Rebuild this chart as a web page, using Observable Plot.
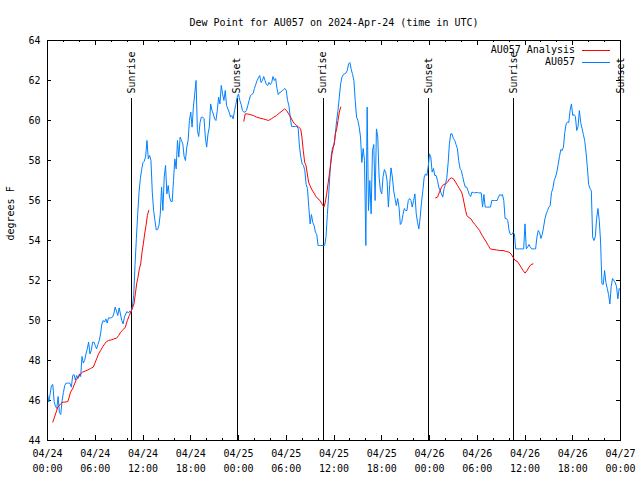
<!DOCTYPE html>
<html><head><meta charset="utf-8">
<script src="https://cdn.jsdelivr.net/npm/d3@7"></script>
<script src="https://cdn.jsdelivr.net/npm/@observablehq/plot@0.6"></script>
<style>
body{margin:0;background:#fff;}
#wrap{position:relative;width:640px;height:480px;font-family:"DejaVu Sans Mono",monospace;}
#legend{position:absolute;top:44px;right:30px;font-size:10px;line-height:12px;}
#legend .row{display:flex;justify-content:flex-end;align-items:center;height:12px;}
#legend .sw{display:inline-block;width:28px;height:1px;margin-left:7px;}
svg line, svg rect{shape-rendering:crispEdges;}
</style></head><body><div id="wrap"><div id="legend"></div></div>
<script>
const titleText = "Dew Point for AU057 on 2024-Apr-24 (time in UTC)";
const yLabel = "degrees F";
const seriesNames = ["AU057 Analysis", "AU057"];
const seriesColors = ["#ff0000", "#0080ff"];
const startUTC = "2024-04-24T00:00:00Z";
const spanHours = 72;
const obsStepMinutes = 10;
const obsValues = [
46.33,45.92,46.33,46.75,46.8,45.95,45.7,45.6,46.2,45.4,
45.3,46.0,46.4,46.75,46.87,46.87,46.87,46.85,46.67,47.25,
47.3,47.03,47.25,47.1,47.33,47.2,48.2,47.87,48.0,48.33,
48.58,48.92,48.33,48.5,48.92,48.92,48.75,48.58,48.8,49.0,
49.33,49.83,50.0,49.92,50.08,49.87,50.13,50.13,50.13,50.17,
50.33,50.67,50.47,50.25,50.63,50.33,50.0,49.83,50.17,50.33,
50.45,50.37,50.47,50.42,50.7,51.25,52.8,54.1,55.3,56.4,
57.1,57.55,57.9,57.97,58.2,59.0,58.08,58.25,58.0,56.42,
55.5,55.0,54.53,54.55,54.75,55.3,56.67,55.5,57.17,57.75,
56.33,56.75,56.17,55.95,55.95,57.0,58.08,57.58,59.0,58.17,
59.17,59.0,58.83,58.2,58.0,58.67,59.0,
60.0,60.42,59.67,60.67,61.33,62.0,59.5,59.2,59.9,60.17,
60.17,60.1,59.17,58.67,59.33,59.67,60.83,60.5,60.33,60.08,
60.0,60.5,61.17,60.83,61.75,61.33,61.0,61.5,60.75,60.58,
60.42,60.17,60.25,60.08,60.5,60.8,61.17,61.33,61.0,60.8,
60.5,60.42,60.42,60.5,60.75,61.0,61.25,61.3,61.35,61.6,
61.8,62.0,62.13,62.25,61.9,62.0,62.2,62.0,61.8,61.75,
61.9,61.8,61.9,62.2,62.0,62.1,61.6,61.3,61.4,61.42,
61.5,61.55,61.6,61.5,61.0,60.75,60.17,59.7,59.7,59.7,
59.7,59.7,59.6,58.67,58.17,57.83,57.75,57.5,56.8,56.6,
55.67,54.83,55.3,54.9,54.75,54.42,54.3,53.75,53.75,53.75,
53.75,53.75,53.75,54.2,55.3,56.3,57.4,58.3,58.67,
58.75,59.33,60.0,60.5,61.17,61.83,62.17,62.3,62.33,62.37,
62.5,62.83,62.9,62.55,62.3,62.0,61.0,60.17,60.0,59.67,
59.17,57.9,58.6,58.0,53.75,60.67,55.5,57.0,55.33,58.5,
58.8,56.0,59.58,59.17,57.17,56.5,56.33,57.2,57.55,57.4,
57.0,55.67,56.8,57.63,57.17,56.5,56.1,55.75,56.1,55.67,
54.8,54.9,55.3,55.6,55.5,55.5,56.0,56.1,56.0,55.67,
56.0,56.33,55.33,54.9,54.58,55.17,55.92,56.5,57.17,57.33,
57.25,57.67,58.33,58.17,57.42,57.6,57.25,57.25,57.0,56.67,
56.5,56.33,56.17,56.6,56.8,57.1,57.83,58.83,59.33,59.33,
59.1,59.0,58.8,58.6,58.0,57.6,57.5,57.2,56.9,56.67,
56.67,56.5,56.3,56.2,56.42,56.4,56.38,56.4,56.4,
56.38,56.38,56.38,55.67,56.3,55.67,55.67,55.67,55.67,55.67,
56.0,56.0,56.0,56.0,56.0,56.17,56.3,56.25,56.3,56.0,
55.1,55.1,55.0,54.5,54.3,54.3,54.4,54.33,53.58,53.58,
53.58,53.58,53.58,53.58,53.58,54.83,53.58,53.67,53.8,53.67,
53.58,53.58,53.58,53.58,54.17,54.5,54.4,54.1,54.3,54.67,
55.08,55.33,55.5,55.67,55.75,56.4,56.6,57.0,57.17,57.42,
57.8,58.2,58.55,58.5,58.67,59.4,59.83,59.92,59.9,60.5,
60.83,60.25,60.3,60.2,59.5,59.7,60.5,59.9,59.6,59.3,
59.0,58.42,57.67,56.8,56.6,56.5,54.17,54.0,54.2,55.1,
55.6,55.0,53.92,51.83,51.8,52.5,51.9,51.6,51.3,50.83,
51.7,52.1,52.0,51.9,51.7,51.08,51.6,51.5
];
const ana1Hours = [0.67,0.88,1.09,1.30,1.64,1.93,2.22,2.56,2.73,2.90,3.15,3.40,3.65,3.90,4.15,4.41,4.74,5.08,5.41,5.75,5.92,6.17,6.42,6.67,6.92,7.18,7.43,7.68,8.01,8.35,8.69,8.94,9.19,9.53,9.78,10.03,10.28,10.53,10.87,11.04,11.20,11.37,11.54,11.71,11.88,12.04,12.21,12.38,12.55,12.72];
const ana1Values = [44.92,45.17,45.42,45.67,45.83,45.92,45.92,45.95,46.17,46.42,46.58,46.83,47.08,47.17,47.33,47.42,47.47,47.53,47.6,47.67,47.83,48.08,48.33,48.5,48.67,48.83,48.95,49.0,49.03,49.08,49.12,49.25,49.42,49.55,49.67,50.0,50.25,50.47,50.83,51.33,51.83,52.17,52.58,52.83,53.42,53.83,54.33,54.75,55.25,55.5];
const ana2Hours = [24.67,24.84,25.09,25.43,25.85,26.27,26.69,27.11,27.53,27.78,28.11,28.45,28.79,29.12,29.46,29.79,30.04,30.30,30.55,30.80,31.05,31.30,31.55,31.81,31.97,32.14,32.31,32.48,32.65,32.81,32.98,33.23,33.49,33.74,33.99,34.24,34.49,34.74,34.91,35.08,35.25,35.42,35.58,35.75,35.92,36.09,36.17,36.34,36.50,36.67,36.84];
const ana2Values = [59.97,60.33,60.33,60.3,60.25,60.17,60.12,60.08,60.03,60.0,60.08,60.17,60.25,60.37,60.47,60.58,60.5,60.33,60.17,59.97,59.83,59.75,59.67,59.58,59.17,58.5,57.92,57.75,57.33,56.92,56.75,56.53,56.37,56.2,56.08,56.0,55.83,55.67,55.92,56.33,56.83,57.33,57.83,58.33,58.67,59.0,59.33,59.58,60.0,60.42,60.67];
const ana3Hours = [48.76,49.01,49.26,49.51,49.76,50.02,50.27,50.52,50.77,51.02,51.27,51.53,51.78,52.03,52.20,52.37,52.53,52.70,52.87,53.21,53.46,53.71,53.96,54.30,54.38,54.63,54.89,55.14,55.39,55.64,55.98,56.40,56.82,57.24,57.66,57.99,58.24,58.49,58.75,59.00,59.25,59.50,59.75,60.01,60.26,60.51,60.76,61.01];
const ana3Values = [56.13,56.17,56.42,56.67,56.8,56.83,56.92,57.08,57.13,57.08,56.92,56.75,56.58,56.42,56.17,55.83,55.5,55.25,55.17,55.08,54.92,54.8,54.67,54.5,54.42,54.25,54.08,53.92,53.75,53.58,53.55,53.53,53.5,53.5,53.45,53.42,53.33,53.17,53.0,52.97,52.83,52.67,52.5,52.37,52.5,52.67,52.8,52.83];
const sunHours = [10.57, 23.82, 34.62, 47.92, 58.59, 72.0];
const sunLabels = ["Sunrise","Sunset","Sunrise","Sunset","Sunrise","Sunset"];
const yTicks = [44,46,48,50,52,54,56,58,60,62,64];
const xMajorHours = [0,6,12,18,24,30,36,42,48,54,60,66,72];
const xMinorHours = [2,4,8,10,14,16,20,22,26,28,32,34,38,40,44,46,50,52,56,58,62,64,68,70];

const T0 = new Date(startUTC).getTime();
const H = 3600e3;
const at = h => new Date(T0 + h * H);
const obs = obsValues.map((v, i) => ({t: new Date(T0 + i * obsStepMinutes * 60e3), v}));
const ana = [];
[[ana1Hours, ana1Values], [ana2Hours, ana2Values], [ana3Hours, ana3Values]].forEach(([hs, vs], k) =>
  hs.forEach((h, i) => ana.push({t: at(h), v: vs[i], seg: k})));
const sun = sunHours.map((h, i) => ({t: at(h), label: sunLabels[i]}));
const x0 = at(0), x1 = at(spanHours);
const fmt = d3.utcFormat("%m/%d\n%H:%M");
const yMin = yTicks[0], yMax = yTicks[yTicks.length - 1];

const plot = Plot.plot({
  width: 640, height: 480,
  marginLeft: 47, marginRight: 20, marginTop: 40, marginBottom: 40,
  style: {fontFamily: "DejaVu Sans Mono, monospace", fontSize: "10px", background: "#fff", color: "#000", overflow: "visible"},
  x: {type: "utc", domain: [x0, x1]},
  y: {domain: [yMin, yMax]},
  marks: [
    Plot.axisY({ticks: yTicks, tickSize: 0, tickPadding: 7, label: null, tickFormat: d => String(d)}),
    Plot.axisX({ticks: xMajorHours.map(at), tickSize: 0, tickPadding: 6, label: null, tickFormat: fmt, lineHeight: 1.5}),
    Plot.ruleY(yTicks, {x1: () => x0, x2: () => at(0.55), stroke: "#000"}),
    Plot.ruleY(yTicks, {x1: () => at(spanHours - 0.55), x2: () => x1, stroke: "#000"}),
    Plot.ruleX(xMajorHours.map(at), {y1: yMin, y2: yMin + 0.25, stroke: "#000"}),
    Plot.ruleX(xMajorHours.map(at), {y1: yMax - 0.25, y2: yMax, stroke: "#000"}),
    Plot.ruleX(xMinorHours.map(at), {y1: yMin, y2: yMin + 0.12, stroke: "#000"}),
    Plot.ruleX(xMinorHours.map(at), {y1: yMax - 0.12, y2: yMax, stroke: "#000"}),
    Plot.ruleX(sun, {x: "t", insetTop: 58, stroke: "#000", clip: false}),
    Plot.text(sun, {x: "t", text: "label", frameAnchor: "top", dy: 53, rotate: -90, textAnchor: "start", lineAnchor: "middle", fill: "#000"}),
    Plot.line(obs, {x: "t", y: "v", stroke: seriesColors[1], strokeWidth: 1}),
    Plot.line(ana, {x: "t", y: "v", z: "seg", stroke: seriesColors[0], strokeWidth: 1}),
    Plot.frame({stroke: "#000", strokeWidth: 1}),
    Plot.text([titleText], {frameAnchor: "top", dy: -22, fill: "#000"}),
    Plot.text([yLabel], {frameAnchor: "left", dx: -37, rotate: -90, fill: "#000"})
  ]
});
document.getElementById("wrap").prepend(plot);
const lg = document.getElementById("legend");
seriesNames.forEach((n, i) => {
  const r = document.createElement("div"); r.className = "row";
  const s = document.createElement("span"); s.textContent = n;
  const w = document.createElement("span"); w.className = "sw"; w.style.background = seriesColors[i];
  r.append(s, w); lg.append(r);
});
</script></body></html>
